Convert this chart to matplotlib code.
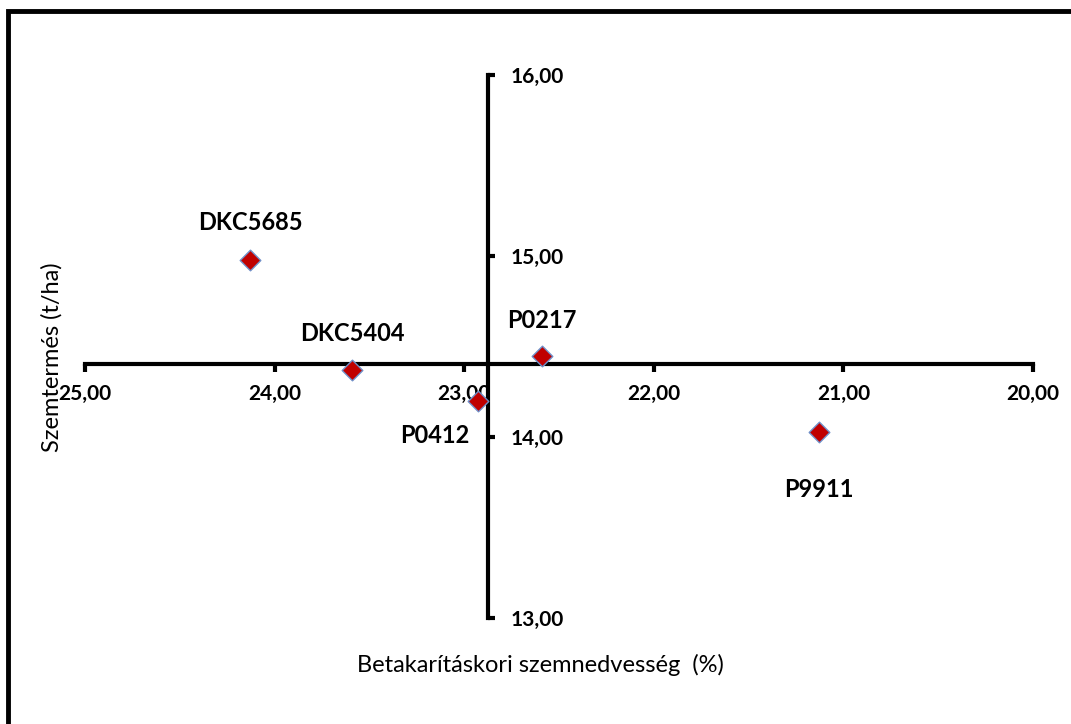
import matplotlib.pyplot as plt
import numpy as np
from matplotlib.patches import Rectangle

plt.rcParams['font.family'] = ['Lato', 'DejaVu Sans']

hybrids = ['DKC5685', 'DKC5404', 'P0412', 'P0217', 'P9911']
moisture = np.array([24.13, 23.59, 22.93, 22.59, 21.13])
yield_t = np.array([14.98, 14.37, 14.20, 14.45, 14.03])
x_ticks = [25, 24, 23, 22, 21, 20]
y_ticks = [13, 14, 15, 16]

fig = plt.figure(figsize=(10.71, 7.24), dpi=100)
ax = fig.add_axes([0.0794, 0.1464, 0.8852, 0.75])

# axes cross at the averages
xm = moisture.mean()
ym = yield_t.mean()

ax.scatter(moisture, yield_t, marker='D', s=110, color='#C00000',
           edgecolor='#6F8FC8', linewidth=1.0, zorder=5)

ax.set_xlim(25, 20)
ax.set_ylim(13, 16)

for s in ['top', 'left']:
    ax.spines[s].set_visible(False)
ax.spines['bottom'].set_position(('data', ym))
ax.spines['right'].set_position(('data', xm))
ax.spines['bottom'].set_linewidth(3)
ax.spines['right'].set_linewidth(3)
ax.yaxis.tick_right()

ax.set_xticks(x_ticks)
ax.set_xticklabels([f'{v:.2f}'.replace('.', ',') for v in x_ticks])
ax.set_yticks(y_ticks)
ax.set_yticklabels([f'{v:.2f}'.replace('.', ',') for v in y_ticks])
ax.tick_params(axis='x', direction='out', length=6, width=3, pad=9, labelsize=15)
ax.tick_params(axis='y', direction='out', length=5, width=3, pad=11, labelsize=15)
for lbl in ax.get_xticklabels() + ax.get_yticklabels():
    lbl.set_fontweight('bold')

# point labels
offsets = {'DKC5685': (0, 27), 'DKC5404': (0, 26),
           'P0412': (-31, -25), 'P0217': (0, 25),
           'P9911': (0, -42)}
for name, xv, yv in zip(hybrids, moisture, yield_t):
    dx, dy = offsets[name]
    ax.annotate(name, (xv, yv), xytext=(dx, dy), textcoords='offset points',
                ha='center', va='center', fontsize=17, fontweight='bold')

fig.text(540 / 1071, 1 - 665 / 724, 'Betakarításkori szemnedvesség  (%)',
         ha='center', va='center', fontsize=17)
fig.text(52 / 1071, 1 - 357 / 724, 'Szemtermés (t/ha)', rotation=90,
         ha='center', va='center', fontsize=17)

fig.patches.append(Rectangle((8 / 1071, -0.05), 1.1, 1 - 11 / 724 + 0.05,
                             transform=fig.transFigure, fill=False,
                             edgecolor='black', linewidth=3.5))

fig.savefig('out.png', dpi=100)
